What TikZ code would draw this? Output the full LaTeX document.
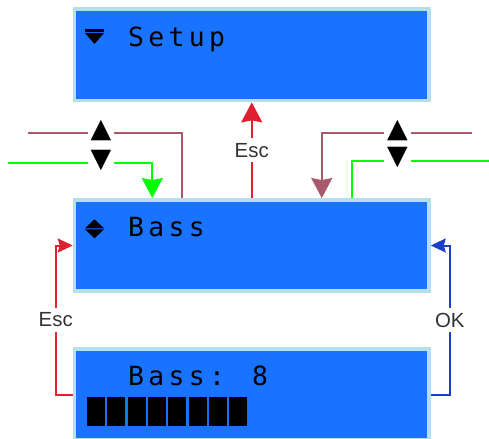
\documentclass[tikz,border=0pt]{standalone}
\usepackage{fontspec}
\setmainfont{Liberation Sans}
\newfontfamily\lcdfont{DejaVu Sans Mono}[LetterSpace=16.5]
\newfontfamily\symfont{DejaVu Sans}
\usepackage{tikz}
\usetikzlibrary{arrows.meta, positioning, calc}

\definecolor{lcdblue}{HTML}{1A73FF}
\definecolor{lcdrim}{HTML}{B4E0EA}
\definecolor{keymauve}{HTML}{A85A6B}
\definecolor{keygreen}{HTML}{00FF00}
\definecolor{keyred}{HTML}{E0202E}
\definecolor{keyblue}{HTML}{1B3FCB}
\definecolor{lblgray}{HTML}{333333}

\begin{document}
\begin{tikzpicture}[x=1bp, y=-1bp,
    lcd/.style={draw=lcdrim, line width=3.5bp, fill=lcdblue,
        minimum width=354.5bp, minimum height=91.4bp, inner sep=0pt},
    lcdtext/.style={anchor=base west, inner sep=0pt,
        font=\lcdfont\fontsize{26.5}{26.5}\selectfont},
    keylbl/.style={fill=white, text=lblgray, inner xsep=2bp, inner ysep=5bp,
        font=\fontsize{20.5}{20.5}\selectfont},
    arrlbl/.style={fill=white, inner xsep=3bp, inner ysep=0bp,
        font=\symfont\fontsize{27}{27}\selectfont},
    wire/.style={line width=2bp},
    bigtip/.style={-{Stealth[length=20bp, width=21bp, inset=2bp]}},
    smalltip/.style={-{Stealth[length=15bp, width=14bp, inset=2bp]}}]
    \useasboundingbox (0,0) rectangle (489,439);

    % LCD screens
    \node[lcd] (setup) at (251.75,54.9) {};
    \node[lcd] (bass) at (251.75,245.5) {};
    \node[lcd] (value) at (251.75,394.5) {};

    % screen contents
    \fill (85,29.3) rectangle (104,31.7);
    \fill (85,33) -- (104,33) -- (94.5,44) -- cycle;
    \node[lcdtext] (setuptxt) at (128,46.5) {Setup};
    \fill (85,228.3) -- (94.5,219.3) -- (104,228.3) -- cycle;
    \fill (85,229.3) -- (104,229.3) -- (94.5,238.3) -- cycle;
    \node[lcdtext] (basstxt) at (128,237) {Bass};
    \node[lcdtext] (valuetxt) at (128,385.5) {Bass: 8};
    \foreach \i in {0,...,7}
        \fill ({87+20.3*\i},397) rectangle ++(18,28.6);

    % free ends
    \coordinate (upL) at (28,133.3);
    \coordinate (downL) at (8,162.7);
    \coordinate (upR) at (472,132.7);
    \coordinate (downR) at (489,161);

    % up / down keys
    \draw[wire, keymauve] ([xshift=-70bp]bass.north) |- (upL);
    \draw[wire, keygreen, bigtip] (downL) -| ([xshift=-99.5bp]bass.north);
    \draw[wire, keymauve, bigtip] (upR) -| ([xshift=70bp]bass.north);
    \draw[wire, keygreen] ([xshift=100bp]bass.north) |- (downR);
    \node[arrlbl] (upLlbl) at (101,131) {▲};
    \node[arrlbl] (downLlbl) at (101,161) {▼};
    \node[arrlbl] (upRlbl) at (397.5,131) {▲};
    \node[arrlbl] (downRlbl) at (397.5,157.5) {▼};

    % Esc / OK keys
    \draw[wire, keyred, bigtip] (bass.north) -- node[keylbl] {Esc} (setup.south);
    \draw[wire, keyred, smalltip] (value.west) -- ++(-17,0) |- node[keylbl, pos=0.25] {Esc} (bass.west);
    \draw[wire, keyblue, smalltip] (value.east) -- ++(19,0) |- node[keylbl, pos=0.25] {OK} (bass.east);
\end{tikzpicture}
\end{document}
